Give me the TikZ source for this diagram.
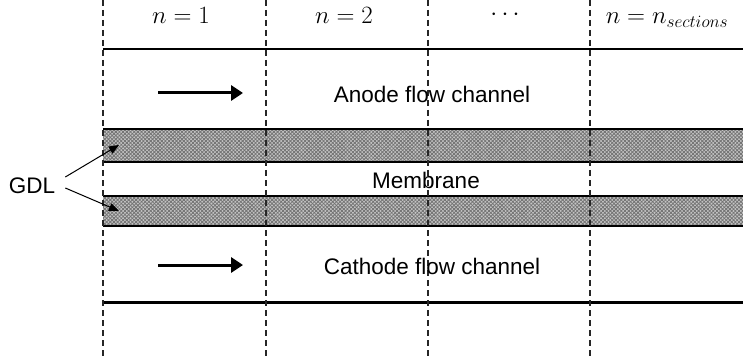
\documentclass[tikz,border=0pt]{standalone}
\usepackage{fontspec}
\setmainfont{Liberation Sans}
\usetikzlibrary{arrows.meta,patterns.meta}
\begin{document}
\begin{tikzpicture}[x=1pt,y=-1pt,
  lbl/.style={inner sep=0pt,font=\fontsize{22.5}{27}\selectfont},
  sect/.style={inner sep=0pt,anchor=base,font=\fontsize{25}{30}\selectfont},
  divider/.style={draw=black!85,line width=1.1pt,dash pattern=on 6pt off 4pt},
  wall/.style={line width=2.3pt},
  flowarrow/.style={line width=3pt,-{Triangle[length=12pt,width=15pt]}},
  pointer/.style={line width=1pt,-{Triangle[length=10pt,width=8pt]}},
  gdlfill/.style={fill=gray!45},
  gdlhatch/.style={pattern={Lines[angle=45,distance=2.6pt,line width=0.8pt]},pattern color=black!55},
  gdlhatchb/.style={pattern={Lines[angle=-45,distance=2.6pt,line width=0.8pt]},pattern color=black!55}]
\useasboundingbox (0,0) rectangle (743,358);
\fill[white] (0,0) rectangle (743,358);

% gas diffusion layers
\foreach \ya/\yb in {129/162, 196/226}{
  \fill[gdlfill] (103,\ya) rectangle (743,\yb);
  \fill[gdlhatch] (103,\ya) rectangle (743,\yb);
  \fill[gdlhatchb] (103,\ya) rectangle (743,\yb);
}

% channel walls and layer boundaries
\draw[wall] (103,49) -- (743,49);
\draw[line width=1.8pt] (103,129) -- (743,129);
\draw[wall] (103,162) -- (743,162);
\draw[line width=1.8pt] (103,196) -- (743,196);
\draw[wall] (103,226) -- (743,226);
\draw[line width=3pt] (103,302) -- (743,302);

% section dividers
\foreach \x in {103,266,428,590}
  \draw[divider] (\x,0) -- (\x,358);

% section labels
\node[sect] (s1) at (181,24) {$n=1$};
\node[sect] (s2) at (344,24) {$n=2$};
\node[sect] (s3) at (505,21) {$\smash{\cdots}$};
\node[sect] (s4) at (667,24) {$n=n_{sections}$};

% region labels
\node[lbl] (anode) at (432,94) {Anode flow channel};
\node[lbl] (membrane) at (426,180) {Membrane};
\node[lbl] (cathode) at (432,266) {Cathode flow channel};
\node[lbl] (gdl) at (32,186) {GDL};

% flow direction
\coordinate (a0) at (158,93);
\coordinate (a1) at (243,93);
\coordinate (c0) at (158,265);
\coordinate (c1) at (243,265);
\draw[flowarrow] (a0) -- (a1);
\draw[flowarrow] (c0) -- (c1);

% GDL pointers
\coordinate (g1) at (119,145);
\coordinate (g2) at (119,211);
\draw[pointer] ([xshift=10pt,yshift=9pt]gdl.east) -- (g1);
\draw[pointer] ([xshift=10pt,yshift=-2pt]gdl.east) -- (g2);
\end{tikzpicture}
\end{document}
